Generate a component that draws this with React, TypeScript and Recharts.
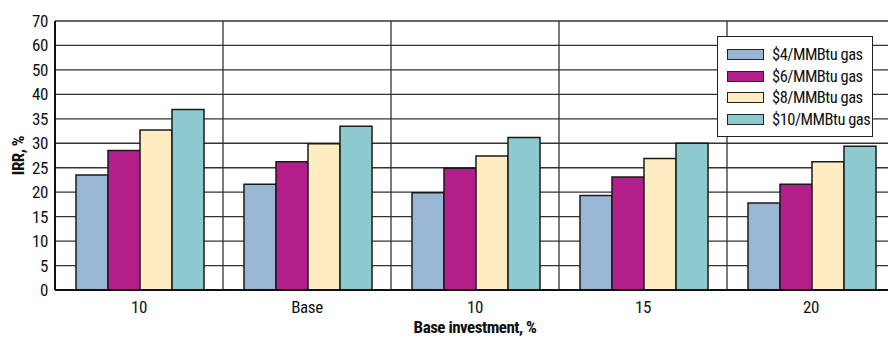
import React from 'react';
import { BarChart, Bar, XAxis, YAxis, CartesianGrid, Legend } from 'recharts';

const categories = ['10', 'Base', '10', '15', '20'];
const gas4 = [23.5, 21.6, 19.9, 19.3, 17.8];
const gas6 = [28.5, 26.2, 24.9, 23.1, 21.6];
const gas8 = [32.7, 29.9, 27.4, 26.9, 26.2];
const gas10 = [36.9, 33.5, 31.2, 30.0, 29.4];
const yTickValues = [0, 5, 10, 15, 20, 25, 30, 35, 40, 50, 60, 70];

const seriesNames = ['$4/MMBtu gas', '$6/MMBtu gas', '$8/MMBtu gas', '$10/MMBtu gas'];
const seriesColors = ['#9AB6D5', '#B31E8A', '#FEEDC3', '#8DCACD'];

// Piecewise axis position: ticks are equally spaced on the printed axis
const toAxis = (v: number) => {
  for (let i = 1; i < yTickValues.length; i++) {
    const a = yTickValues[i - 1];
    const b = yTickValues[i];
    if (v <= b) return i - 1 + (v - a) / (b - a);
  }
  return yTickValues.length - 1;
};

const data = categories.map((c, i) => ({
  label: c,
  g4: gas4[i],
  g6: gas6[i],
  g8: gas8[i],
  g10: gas10[i],
}));

const FONT = "'Roboto Condensed', 'DejaVu Sans Condensed', sans-serif";

const renderLegend = () => (
  <div
    style={{
      boxSizing: 'border-box',
      border: '1.5px solid #222',
      background: '#fff',
      padding: '7px 4px 6px 9px',
      fontFamily: FONT,
      fontSize: 16.5,
      letterSpacing: -0.5,
      color: '#111',
      width: 156,
      height: 101,
    }}
  >
    {seriesNames.map((n, i) => (
      <div key={n} style={{ display: 'flex', alignItems: 'center', height: 21.5 }}>
        <div
          style={{
            boxSizing: 'border-box',
            width: 37,
            height: 11,
            background: seriesColors[i],
            border: '1.5px solid #222',
            marginRight: 8,
            flexShrink: 0,
          }}
        />
        <span style={{ lineHeight: '21.5px', whiteSpace: 'nowrap' }}>{n}</span>
      </div>
    ))}
  </div>
);

const YLabel = (props: any) => {
  const vb = props.viewBox || {};
  const cy = (vb.y ?? 21) + (vb.height ?? 269) / 2;
  const x = 18;
  return (
    <text
      x={x}
      y={cy}
      transform={`rotate(-90, ${x}, ${cy})`}
      textAnchor="middle"
      dominantBaseline="central"
      fontFamily={FONT}
      fontWeight="bold"
      fontSize={17}
      style={{ letterSpacing: -0.5 }}
      fill="#111"
    >
      IRR, %
    </text>
  );
};

const tickStyle = { fontFamily: FONT, fontSize: 17, fill: '#111', letterSpacing: -0.4 };

export default function App() {
  return (
    <div
      style={{
        position: 'absolute',
        left: 0,
        top: 0,
        width: 888,
        height: 338,
        overflow: 'hidden',
        background: '#fff',
      }}
    >
      <BarChart
        width={900}
        height={338}
        data={data}
        margin={{ top: 21, right: 5, bottom: 0, left: 0 }}
        barCategoryGap={21}
        barGap={0}
      >
        <CartesianGrid
          stroke="#333"
          strokeWidth={1.3}
          verticalCoordinatesGenerator={({ offset }: any) =>
            categories.map((_, i) => offset.left + (i * offset.width) / categories.length)
          }
        />
        <XAxis
          dataKey="label"
          height={48}
          tickLine={false}
          tickSize={0}
          tickMargin={11}
          axisLine={{ stroke: '#111', strokeWidth: 2 }}
          tick={{ ...tickStyle, style: { letterSpacing: -0.4 } }}
          label={{
            value: 'Base investment, %',
            position: 'insideBottom',
            offset: 5,
            style: { fontFamily: FONT, fontWeight: 'bold', fontSize: 17, fill: '#111', letterSpacing: -0.5 },
          }}
        />
        <YAxis
          type="number"
          width={55}
          domain={[0, yTickValues.length - 1]}
          ticks={yTickValues.map((_, i) => i)}
          tickFormatter={(i: number) => String(yTickValues[i])}
          interval={0}
          tickLine={false}
          tickSize={0}
          tickMargin={7}
          axisLine={{ stroke: '#111', strokeWidth: 2 }}
          tick={{ ...tickStyle, style: { letterSpacing: -0.4 } }}
          label={<YLabel />}
        />
        <Legend
          layout="vertical"
          align="center"
          verticalAlign="middle"
          content={renderLegend}
          wrapperStyle={{ position: 'absolute', left: 717, top: 36, width: 'auto', height: 'auto' }}
        />
        <Bar dataKey={(d: any) => toAxis(d.g4)} name={seriesNames[0]} fill={seriesColors[0]} stroke="#1a1a1a" strokeWidth={1.5} isAnimationActive={false} />
        <Bar dataKey={(d: any) => toAxis(d.g6)} name={seriesNames[1]} fill={seriesColors[1]} stroke="#1a1a1a" strokeWidth={1.5} isAnimationActive={false} />
        <Bar dataKey={(d: any) => toAxis(d.g8)} name={seriesNames[2]} fill={seriesColors[2]} stroke="#1a1a1a" strokeWidth={1.5} isAnimationActive={false} />
        <Bar dataKey={(d: any) => toAxis(d.g10)} name={seriesNames[3]} fill={seriesColors[3]} stroke="#1a1a1a" strokeWidth={1.5} isAnimationActive={false} />
      </BarChart>
    </div>
  );
}
